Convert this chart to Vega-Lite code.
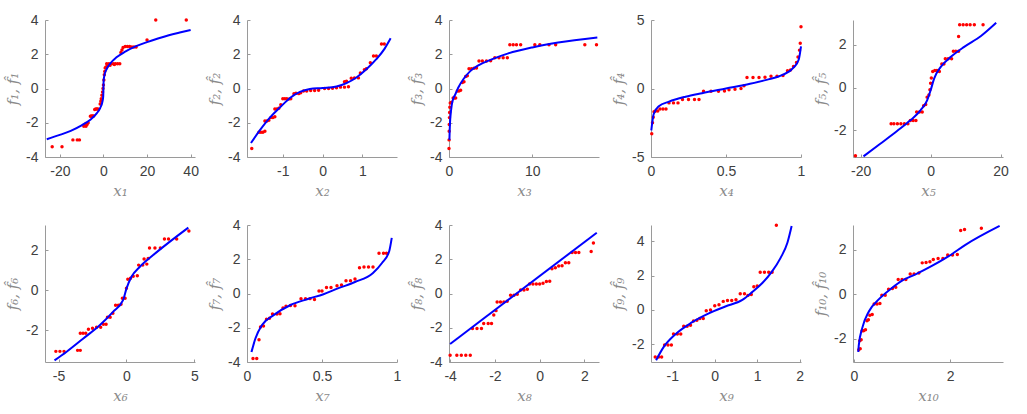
{
"$schema": "https://vega.github.io/schema/vega-lite/v6.json",
"background": "white",
"padding": {"left": 5, "top": 13, "right": 5, "bottom": 5},
"config": {
 "view": {"stroke": null},
 "axis": {"grid": false, "domainColor": "#9a9a9a", "tickColor": "#9a9a9a", "tickSize": -3, "labelPadding": 10, "labelColor": "#404040", "labelFont": "Liberation Sans", "labelFontSize": 14, "labelExpr": "'' + datum.value", "titleFont": "DejaVu Serif", "titleFontStyle": "italic", "titleFontWeight": "normal", "titleColor": "#8a8a8a", "titleFontSize": 15, "titlePadding": 5, "labelFlush": false, "labelOverlap": false}
},
"datasets": {
 "d1": [
  {"x":-26,"y":-2.96,"k":"c"},{"x":-20,"y":-2.71,"k":"c"},{"x":-15,"y":-2.47,"k":"c"},{"x":-10,"y":-2.15,"k":"c"},{"x":-6,"y":-1.82,"k":"c"},{"x":-3,"y":-1.44,"k":"c"},{"x":-1.5,"y":-1.14,"k":"c"},{"x":-0.5,"y":-0.79,"k":"c"},{"x":-0.1,"y":-0.46,"k":"c"},{"x":0,"y":0,"k":"c"},{"x":0.1,"y":0.46,"k":"c"},{"x":0.5,"y":0.79,"k":"c"},{"x":1.5,"y":1.14,"k":"c"},{"x":3,"y":1.44,"k":"c"},{"x":6,"y":1.82,"k":"c"},{"x":10,"y":2.15,"k":"c"},{"x":15,"y":2.47,"k":"c"},{"x":20,"y":2.71,"k":"c"},{"x":25,"y":2.92,"k":"c"},{"x":30,"y":3.11,"k":"c"},{"x":35,"y":3.27,"k":"c"},{"x":40,"y":3.42,"k":"c"},
  {"x":-23.5,"y":-3.4,"k":"p"},{"x":-19,"y":-3.4,"k":"p"},{"x":-14,"y":-3.0,"k":"p"},{"x":-12,"y":-3.0,"k":"p"},{"x":-11,"y":-3.0,"k":"p"},{"x":-9,"y":-2.2,"k":"p"},{"x":-8.5,"y":-2.15,"k":"p"},{"x":-8,"y":-2.2,"k":"p"},{"x":-7.5,"y":-2.1,"k":"p"},{"x":-7,"y":-2.0,"k":"p"},{"x":-8,"y":-2.05,"k":"p"},{"x":-6,"y":-1.62,"k":"p"},{"x":-5.5,"y":-1.6,"k":"p"},{"x":-5,"y":-1.6,"k":"p"},{"x":-4.5,"y":-1.6,"k":"p"},{"x":-4,"y":-1.22,"k":"p"},{"x":-3.5,"y":-1.2,"k":"p"},{"x":-3,"y":-1.2,"k":"p"},{"x":-2.5,"y":-1.2,"k":"p"},{"x":-1.5,"y":-0.9,"k":"p"},{"x":-1.2,"y":-0.75,"k":"p"},{"x":-1,"y":-0.6,"k":"p"},{"x":-0.7,"y":-0.4,"k":"p"},{"x":-0.4,"y":-0.2,"k":"p"},{"x":-0.2,"y":0,"k":"p"},{"x":0,"y":0.2,"k":"p"},{"x":0.2,"y":0.5,"k":"p"},{"x":0.4,"y":0.8,"k":"p"},{"x":0.6,"y":1.0,"k":"p"},{"x":0.8,"y":1.2,"k":"p"},{"x":1.2,"y":1.25,"k":"p"},{"x":1.8,"y":1.3,"k":"p"},{"x":1.5,"y":1.45,"k":"p"},{"x":2.5,"y":1.45,"k":"p"},{"x":3.5,"y":1.45,"k":"p"},{"x":4.5,"y":1.45,"k":"p"},{"x":5.5,"y":1.45,"k":"p"},{"x":6.5,"y":1.45,"k":"p"},{"x":7.5,"y":1.45,"k":"p"},{"x":3,"y":1.35,"k":"p"},{"x":5,"y":1.4,"k":"p"},{"x":8,"y":2.1,"k":"p"},{"x":8.5,"y":2.25,"k":"p"},{"x":9,"y":2.4,"k":"p"},{"x":10,"y":2.45,"k":"p"},{"x":11,"y":2.45,"k":"p"},{"x":12,"y":2.45,"k":"p"},{"x":13,"y":2.42,"k":"p"},{"x":14,"y":2.42,"k":"p"},{"x":15,"y":2.42,"k":"p"},{"x":20,"y":2.83,"k":"p"},{"x":24,"y":4.0,"k":"p"},{"x":38,"y":4.0,"k":"p"}
 ],
 "d2": [
  {"x":-1.8,"y":-3.18,"k":"c"},{"x":-1.57,"y":-2.42,"k":"c"},{"x":-1.32,"y":-1.69,"k":"c"},{"x":-1.07,"y":-1.1,"k":"c"},{"x":-0.82,"y":-0.55,"k":"c"},{"x":-0.57,"y":-0.2,"k":"c"},{"x":-0.32,"y":-0.03,"k":"c"},{"x":0,"y":0.03,"k":"c"},{"x":0.35,"y":0.12,"k":"c"},{"x":0.6,"y":0.31,"k":"c"},{"x":0.85,"y":0.64,"k":"c"},{"x":1.1,"y":1.12,"k":"c"},{"x":1.35,"y":1.71,"k":"c"},{"x":1.56,"y":2.33,"k":"c"},{"x":1.71,"y":2.93,"k":"c"},
  {"x":-1.78,"y":-3.5,"k":"p"},{"x":-1.6,"y":-2.55,"k":"p"},{"x":-1.55,"y":-2.55,"k":"p"},{"x":-1.5,"y":-2.55,"k":"p"},{"x":-1.45,"y":-2.5,"k":"p"},{"x":-1.45,"y":-1.9,"k":"p"},{"x":-1.4,"y":-1.9,"k":"p"},{"x":-1.35,"y":-1.85,"k":"p"},{"x":-1.3,"y":-1.7,"k":"p"},{"x":-1.25,"y":-1.7,"k":"p"},{"x":-1.2,"y":-1.65,"k":"p"},{"x":-1.2,"y":-1.2,"k":"p"},{"x":-1.15,"y":-1.2,"k":"p"},{"x":-1.1,"y":-1.15,"k":"p"},{"x":-1.05,"y":-0.95,"k":"p"},{"x":-1.0,"y":-0.6,"k":"p"},{"x":-0.95,"y":-0.6,"k":"p"},{"x":-0.9,"y":-0.6,"k":"p"},{"x":-0.85,"y":-0.62,"k":"p"},{"x":-0.8,"y":-0.6,"k":"p"},{"x":-0.72,"y":-0.3,"k":"p"},{"x":-0.67,"y":-0.28,"k":"p"},{"x":-0.6,"y":-0.3,"k":"p"},{"x":-0.55,"y":-0.25,"k":"p"},{"x":-0.48,"y":-0.15,"k":"p"},{"x":-0.4,"y":-0.15,"k":"p"},{"x":-0.3,"y":-0.12,"k":"p"},{"x":-0.2,"y":-0.12,"k":"p"},{"x":-0.1,"y":-0.1,"k":"p"},{"x":0.05,"y":0.0,"k":"p"},{"x":0.15,"y":0.0,"k":"p"},{"x":0.25,"y":0.02,"k":"p"},{"x":0.35,"y":0.05,"k":"p"},{"x":0.45,"y":0.08,"k":"p"},{"x":0.55,"y":0.08,"k":"p"},{"x":0.65,"y":0.1,"k":"p"},{"x":0.55,"y":0.4,"k":"p"},{"x":0.6,"y":0.42,"k":"p"},{"x":0.72,"y":0.6,"k":"p"},{"x":0.8,"y":0.62,"k":"p"},{"x":0.9,"y":0.62,"k":"p"},{"x":0.95,"y":0.9,"k":"p"},{"x":1.05,"y":1.1,"k":"p"},{"x":1.1,"y":1.15,"k":"p"},{"x":1.2,"y":1.5,"k":"p"},{"x":1.28,"y":1.9,"k":"p"},{"x":1.35,"y":1.9,"k":"p"},{"x":1.48,"y":2.6,"k":"p"},{"x":1.55,"y":2.6,"k":"p"}
 ],
 "d3": [
  {"x":0.05,"y":-3.0,"k":"c"},{"x":0.08,"y":-2.5,"k":"c"},{"x":0.12,"y":-2.0,"k":"c"},{"x":0.2,"y":-1.5,"k":"c"},{"x":0.32,"y":-1.0,"k":"c"},{"x":0.5,"y":-0.6,"k":"c"},{"x":0.72,"y":-0.38,"k":"c"},{"x":1.12,"y":0.06,"k":"c"},{"x":1.72,"y":0.54,"k":"c"},{"x":2.52,"y":1.0,"k":"c"},{"x":3.52,"y":1.35,"k":"c"},{"x":5.12,"y":1.7,"k":"c"},{"x":7.12,"y":2.05,"k":"c"},{"x":10,"y":2.4,"k":"c"},{"x":13.1,"y":2.68,"k":"c"},{"x":17.8,"y":2.98,"k":"c"},
  {"x":0,"y":-3.5,"k":"p"},{"x":0.01,"y":-3.0,"k":"p"},{"x":0.02,"y":-2.5,"k":"p"},{"x":0.03,"y":-2.1,"k":"p"},{"x":0.05,"y":-1.7,"k":"p"},{"x":0.07,"y":-1.4,"k":"p"},{"x":0.1,"y":-1.1,"k":"p"},{"x":0.15,"y":-0.85,"k":"p"},{"x":0.3,"y":-0.8,"k":"p"},{"x":0.5,"y":-0.55,"k":"p"},{"x":0.65,"y":-0.55,"k":"p"},{"x":0.8,"y":-0.55,"k":"p"},{"x":1.0,"y":-0.15,"k":"p"},{"x":1.2,"y":-0.15,"k":"p"},{"x":1.4,"y":-0.1,"k":"p"},{"x":1.6,"y":0.35,"k":"p"},{"x":1.8,"y":0.4,"k":"p"},{"x":2.0,"y":0.7,"k":"p"},{"x":2.2,"y":0.75,"k":"p"},{"x":2.4,"y":1.15,"k":"p"},{"x":2.7,"y":1.15,"k":"p"},{"x":3.0,"y":1.18,"k":"p"},{"x":3.3,"y":1.2,"k":"p"},{"x":3.6,"y":1.6,"k":"p"},{"x":4.0,"y":1.6,"k":"p"},{"x":4.5,"y":1.6,"k":"p"},{"x":5.0,"y":1.62,"k":"p"},{"x":5.5,"y":1.8,"k":"p"},{"x":6.0,"y":1.8,"k":"p"},{"x":6.5,"y":1.8,"k":"p"},{"x":7.0,"y":1.8,"k":"p"},{"x":7.3,"y":2.55,"k":"p"},{"x":7.7,"y":2.55,"k":"p"},{"x":8.1,"y":2.55,"k":"p"},{"x":8.6,"y":2.55,"k":"p"},{"x":10.3,"y":2.55,"k":"p"},{"x":10.9,"y":2.55,"k":"p"},{"x":12.0,"y":2.55,"k":"p"},{"x":12.8,"y":2.55,"k":"p"},{"x":16.3,"y":2.55,"k":"p"},{"x":17.7,"y":2.55,"k":"p"}
 ],
 "d4": [
  {"x":0.002,"y":-3.06,"k":"c"},{"x":0.018,"y":-1.86,"k":"c"},{"x":0.052,"y":-1.3,"k":"c"},{"x":0.12,"y":-0.96,"k":"c"},{"x":0.23,"y":-0.6,"k":"c"},{"x":0.34,"y":-0.34,"k":"c"},{"x":0.5,"y":0,"k":"c"},{"x":0.66,"y":0.34,"k":"c"},{"x":0.77,"y":0.63,"k":"c"},{"x":0.88,"y":1.01,"k":"c"},{"x":0.95,"y":1.52,"k":"c"},{"x":0.985,"y":2.12,"k":"c"},{"x":1.0,"y":3.08,"k":"c"},
  {"x":0.005,"y":-3.3,"k":"p"},{"x":0.01,"y":-2.5,"k":"p"},{"x":0.015,"y":-2.1,"k":"p"},{"x":0.02,"y":-1.7,"k":"p"},{"x":0.03,"y":-1.65,"k":"p"},{"x":0.045,"y":-1.65,"k":"p"},{"x":0.06,"y":-1.5,"k":"p"},{"x":0.08,"y":-1.5,"k":"p"},{"x":0.1,"y":-1.5,"k":"p"},{"x":0.12,"y":-1.05,"k":"p"},{"x":0.15,"y":-1.05,"k":"p"},{"x":0.18,"y":-1.05,"k":"p"},{"x":0.21,"y":-0.8,"k":"p"},{"x":0.25,"y":-0.8,"k":"p"},{"x":0.29,"y":-0.8,"k":"p"},{"x":0.32,"y":-0.8,"k":"p"},{"x":0.35,"y":-0.2,"k":"p"},{"x":0.4,"y":-0.2,"k":"p"},{"x":0.45,"y":-0.2,"k":"p"},{"x":0.49,"y":-0.18,"k":"p"},{"x":0.52,"y":-0.1,"k":"p"},{"x":0.56,"y":-0.05,"k":"p"},{"x":0.6,"y":0.0,"k":"p"},{"x":0.62,"y":0.2,"k":"p"},{"x":0.64,"y":0.8,"k":"p"},{"x":0.68,"y":0.8,"k":"p"},{"x":0.72,"y":0.8,"k":"p"},{"x":0.76,"y":0.82,"k":"p"},{"x":0.8,"y":0.9,"k":"p"},{"x":0.84,"y":0.9,"k":"p"},{"x":0.88,"y":0.95,"k":"p"},{"x":0.91,"y":1.3,"k":"p"},{"x":0.93,"y":1.35,"k":"p"},{"x":0.95,"y":1.6,"k":"p"},{"x":0.97,"y":1.9,"k":"p"},{"x":0.98,"y":2.3,"k":"p"},{"x":0.99,"y":2.8,"k":"p"},{"x":0.995,"y":3.3,"k":"p"},{"x":1.0,"y":4.5,"k":"p"}
 ],
 "d5": [
  {"x":-19.2,"y":-3.23,"k":"c"},{"x":-14.4,"y":-2.64,"k":"c"},{"x":-9.6,"y":-2.04,"k":"c"},{"x":-5.8,"y":-1.54,"k":"c"},{"x":-2.9,"y":-1.07,"k":"c"},{"x":-1.0,"y":-0.6,"k":"c"},{"x":0,"y":-0.13,"k":"c"},{"x":1.0,"y":0.42,"k":"c"},{"x":2.9,"y":0.97,"k":"c"},{"x":5.8,"y":1.44,"k":"c"},{"x":9.6,"y":1.91,"k":"c"},{"x":14.4,"y":2.42,"k":"c"},{"x":18.75,"y":3.04,"k":"c"},
  {"x":-21.5,"y":-3.2,"k":"p"},{"x":-11.3,"y":-1.7,"k":"p"},{"x":-10.5,"y":-1.7,"k":"p"},{"x":-9.5,"y":-1.7,"k":"p"},{"x":-8.5,"y":-1.7,"k":"p"},{"x":-7.5,"y":-1.7,"k":"p"},{"x":-6.5,"y":-1.7,"k":"p"},{"x":-5.8,"y":-1.55,"k":"p"},{"x":-5,"y":-1.55,"k":"p"},{"x":-4.2,"y":-1.55,"k":"p"},{"x":-4,"y":-1.15,"k":"p"},{"x":-3.2,"y":-1.15,"k":"p"},{"x":-2.4,"y":-1.15,"k":"p"},{"x":-2,"y":-0.85,"k":"p"},{"x":-1.4,"y":-0.8,"k":"p"},{"x":-1,"y":-0.45,"k":"p"},{"x":-0.5,"y":-0.35,"k":"p"},{"x":-0.2,"y":-0.1,"k":"p"},{"x":0,"y":0.2,"k":"p"},{"x":0.2,"y":0.45,"k":"p"},{"x":0.6,"y":0.75,"k":"p"},{"x":1.2,"y":0.8,"k":"p"},{"x":1.8,"y":0.8,"k":"p"},{"x":2.5,"y":0.75,"k":"p"},{"x":3.2,"y":1.1,"k":"p"},{"x":3.8,"y":1.1,"k":"p"},{"x":4.2,"y":1.35,"k":"p"},{"x":5.0,"y":1.35,"k":"p"},{"x":6.0,"y":1.35,"k":"p"},{"x":6.5,"y":1.7,"k":"p"},{"x":7.2,"y":1.7,"k":"p"},{"x":8.0,"y":1.7,"k":"p"},{"x":8.0,"y":2.4,"k":"p"},{"x":8.3,"y":2.95,"k":"p"},{"x":9.3,"y":2.95,"k":"p"},{"x":10.3,"y":2.95,"k":"p"},{"x":11.3,"y":2.95,"k":"p"},{"x":12.5,"y":2.95,"k":"p"},{"x":15,"y":2.95,"k":"p"}
 ],
 "d6": [
  {"x":-5.3,"y":-3.5,"k":"c"},{"x":-4.43,"y":-3.08,"k":"c"},{"x":-3.2,"y":-2.42,"k":"c"},{"x":-1.97,"y":-1.75,"k":"c"},{"x":-0.99,"y":-1.08,"k":"c"},{"x":-0.25,"y":-0.5,"k":"c"},{"x":0,"y":0.08,"k":"c"},{"x":0.37,"y":0.67,"k":"c"},{"x":0.99,"y":1.17,"k":"c"},{"x":1.97,"y":1.75,"k":"c"},{"x":3.2,"y":2.42,"k":"c"},{"x":4.56,"y":3.12,"k":"c"},
  {"x":-5.2,"y":-3.05,"k":"p"},{"x":-4.9,"y":-3.05,"k":"p"},{"x":-4.6,"y":-3.05,"k":"p"},{"x":-3.6,"y":-3.0,"k":"p"},{"x":-3.4,"y":-3.0,"k":"p"},{"x":-3.4,"y":-2.15,"k":"p"},{"x":-3.2,"y":-2.15,"k":"p"},{"x":-3.0,"y":-2.15,"k":"p"},{"x":-2.8,"y":-1.95,"k":"p"},{"x":-2.5,"y":-1.9,"k":"p"},{"x":-2.2,"y":-1.85,"k":"p"},{"x":-1.9,"y":-1.85,"k":"p"},{"x":-1.7,"y":-1.7,"k":"p"},{"x":-1.5,"y":-1.7,"k":"p"},{"x":-1.4,"y":-1.35,"k":"p"},{"x":-1.2,"y":-1.35,"k":"p"},{"x":-1.0,"y":-1.15,"k":"p"},{"x":-0.8,"y":-0.75,"k":"p"},{"x":-0.6,"y":-0.75,"k":"p"},{"x":-0.4,"y":-0.7,"k":"p"},{"x":-0.3,"y":-0.4,"k":"p"},{"x":-0.1,"y":-0.4,"k":"p"},{"x":0.0,"y":0.1,"k":"p"},{"x":0.1,"y":0.55,"k":"p"},{"x":0.3,"y":0.6,"k":"p"},{"x":0.5,"y":0.7,"k":"p"},{"x":0.8,"y":0.72,"k":"p"},{"x":0.9,"y":1.25,"k":"p"},{"x":1.2,"y":1.25,"k":"p"},{"x":1.5,"y":1.3,"k":"p"},{"x":1.3,"y":1.55,"k":"p"},{"x":1.6,"y":1.58,"k":"p"},{"x":1.7,"y":2.1,"k":"p"},{"x":2.1,"y":2.1,"k":"p"},{"x":2.5,"y":2.1,"k":"p"},{"x":2.8,"y":2.55,"k":"p"},{"x":3.1,"y":2.55,"k":"p"},{"x":3.7,"y":2.55,"k":"p"},{"x":4.6,"y":2.95,"k":"p"}
 ],
 "d7": [
  {"x":0.03,"y":-3.41,"k":"c"},{"x":0.056,"y":-2.63,"k":"c"},{"x":0.1,"y":-1.84,"k":"c"},{"x":0.18,"y":-1.25,"k":"c"},{"x":0.29,"y":-0.67,"k":"c"},{"x":0.41,"y":-0.31,"k":"c"},{"x":0.51,"y":-0.04,"k":"c"},{"x":0.61,"y":0.31,"k":"c"},{"x":0.72,"y":0.67,"k":"c"},{"x":0.84,"y":1.2,"k":"c"},{"x":0.9,"y":1.78,"k":"c"},{"x":0.948,"y":2.47,"k":"c"},{"x":0.965,"y":3.25,"k":"c"},
  {"x":0.04,"y":-3.8,"k":"p"},{"x":0.065,"y":-3.8,"k":"p"},{"x":0.08,"y":-2.7,"k":"p"},{"x":0.09,"y":-1.95,"k":"p"},{"x":0.11,"y":-1.9,"k":"p"},{"x":0.13,"y":-1.5,"k":"p"},{"x":0.15,"y":-1.45,"k":"p"},{"x":0.17,"y":-1.2,"k":"p"},{"x":0.2,"y":-1.2,"k":"p"},{"x":0.22,"y":-1.18,"k":"p"},{"x":0.24,"y":-0.85,"k":"p"},{"x":0.26,"y":-0.75,"k":"p"},{"x":0.29,"y":-0.7,"k":"p"},{"x":0.32,"y":-0.72,"k":"p"},{"x":0.36,"y":-0.3,"k":"p"},{"x":0.39,"y":-0.3,"k":"p"},{"x":0.42,"y":-0.3,"k":"p"},{"x":0.45,"y":-0.35,"k":"p"},{"x":0.48,"y":0.15,"k":"p"},{"x":0.5,"y":0.15,"k":"p"},{"x":0.53,"y":0.35,"k":"p"},{"x":0.56,"y":0.35,"k":"p"},{"x":0.6,"y":0.45,"k":"p"},{"x":0.63,"y":0.5,"k":"p"},{"x":0.66,"y":0.75,"k":"p"},{"x":0.69,"y":0.75,"k":"p"},{"x":0.72,"y":0.85,"k":"p"},{"x":0.75,"y":1.5,"k":"p"},{"x":0.78,"y":1.55,"k":"p"},{"x":0.81,"y":1.55,"k":"p"},{"x":0.84,"y":1.55,"k":"p"},{"x":0.88,"y":2.35,"k":"p"},{"x":0.91,"y":2.35,"k":"p"},{"x":0.93,"y":2.35,"k":"p"}
 ],
 "d8": [
  {"x":-4,"y":-2.95,"k":"c"},{"x":2.55,"y":3.55,"k":"c"},
  {"x":-4,"y":-3.6,"k":"p"},{"x":-3.7,"y":-3.6,"k":"p"},{"x":-3.5,"y":-3.6,"k":"p"},{"x":-3.3,"y":-3.6,"k":"p"},{"x":-3.1,"y":-3.6,"k":"p"},{"x":-3.0,"y":-2.05,"k":"p"},{"x":-2.8,"y":-2.05,"k":"p"},{"x":-2.6,"y":-2.05,"k":"p"},{"x":-2.5,"y":-1.75,"k":"p"},{"x":-2.3,"y":-1.75,"k":"p"},{"x":-2.15,"y":-1.75,"k":"p"},{"x":-2.05,"y":-1.25,"k":"p"},{"x":-1.95,"y":-1.0,"k":"p"},{"x":-1.9,"y":-0.5,"k":"p"},{"x":-1.75,"y":-0.5,"k":"p"},{"x":-1.6,"y":-0.5,"k":"p"},{"x":-1.45,"y":-0.45,"k":"p"},{"x":-1.3,"y":-0.1,"k":"p"},{"x":-1.15,"y":-0.1,"k":"p"},{"x":-1.0,"y":-0.05,"k":"p"},{"x":-0.85,"y":0.2,"k":"p"},{"x":-0.7,"y":0.2,"k":"p"},{"x":-0.55,"y":0.25,"k":"p"},{"x":-0.45,"y":0.55,"k":"p"},{"x":-0.3,"y":0.55,"k":"p"},{"x":-0.15,"y":0.55,"k":"p"},{"x":0.0,"y":0.55,"k":"p"},{"x":0.15,"y":0.6,"k":"p"},{"x":0.3,"y":0.7,"k":"p"},{"x":0.45,"y":0.72,"k":"p"},{"x":0.55,"y":1.45,"k":"p"},{"x":0.7,"y":1.5,"k":"p"},{"x":0.85,"y":1.6,"k":"p"},{"x":1.0,"y":1.62,"k":"p"},{"x":1.15,"y":1.8,"k":"p"},{"x":1.3,"y":1.8,"k":"p"},{"x":1.45,"y":2.4,"k":"p"},{"x":1.6,"y":2.4,"k":"p"},{"x":1.75,"y":2.4,"k":"p"},{"x":2.3,"y":2.45,"k":"p"},{"x":2.4,"y":2.95,"k":"p"}
 ],
 "d9": [
  {"x":-1.38,"y":-2.94,"k":"c"},{"x":-1.2,"y":-2.16,"k":"c"},{"x":-0.93,"y":-1.43,"k":"c"},{"x":-0.54,"y":-0.73,"k":"c"},{"x":-0.14,"y":-0.2,"k":"c"},{"x":0.25,"y":0.2,"k":"c"},{"x":0.65,"y":0.59,"k":"c"},{"x":0.88,"y":1.04,"k":"c"},{"x":1.12,"y":1.57,"k":"c"},{"x":1.35,"y":2.25,"k":"c"},{"x":1.55,"y":3.04,"k":"c"},{"x":1.71,"y":3.92,"k":"c"},{"x":1.81,"y":4.9,"k":"c"},
  {"x":-1.4,"y":-2.75,"k":"p"},{"x":-1.32,"y":-2.75,"k":"p"},{"x":-1.25,"y":-2.75,"k":"p"},{"x":-1.18,"y":-2.05,"k":"p"},{"x":-1.1,"y":-2.05,"k":"p"},{"x":-1.02,"y":-2.05,"k":"p"},{"x":-0.97,"y":-1.4,"k":"p"},{"x":-0.88,"y":-1.4,"k":"p"},{"x":-0.8,"y":-1.4,"k":"p"},{"x":-0.73,"y":-0.95,"k":"p"},{"x":-0.65,"y":-0.95,"k":"p"},{"x":-0.57,"y":-0.9,"k":"p"},{"x":-0.5,"y":-0.65,"k":"p"},{"x":-0.42,"y":-0.6,"k":"p"},{"x":-0.35,"y":-0.5,"k":"p"},{"x":-0.27,"y":-0.5,"k":"p"},{"x":-0.2,"y":-0.05,"k":"p"},{"x":-0.1,"y":0.0,"k":"p"},{"x":0.0,"y":0.25,"k":"p"},{"x":0.1,"y":0.3,"k":"p"},{"x":0.2,"y":0.5,"k":"p"},{"x":0.3,"y":0.55,"k":"p"},{"x":0.4,"y":0.55,"k":"p"},{"x":0.5,"y":0.6,"k":"p"},{"x":0.6,"y":0.95,"k":"p"},{"x":0.7,"y":0.95,"k":"p"},{"x":0.78,"y":0.85,"k":"p"},{"x":0.86,"y":0.9,"k":"p"},{"x":0.92,"y":1.35,"k":"p"},{"x":1.0,"y":1.4,"k":"p"},{"x":1.07,"y":2.2,"k":"p"},{"x":1.17,"y":2.2,"k":"p"},{"x":1.27,"y":2.2,"k":"p"},{"x":1.35,"y":2.2,"k":"p"},{"x":1.45,"y":4.95,"k":"p"}
 ],
 "d10": [
  {"x":0.09,"y":-2.6,"k":"c"},{"x":0.1,"y":-2.3,"k":"c"},{"x":0.17,"y":-1.54,"k":"c"},{"x":0.31,"y":-0.78,"k":"c"},{"x":0.52,"y":-0.23,"k":"c"},{"x":0.79,"y":0.27,"k":"c"},{"x":1.0,"y":0.6,"k":"c"},{"x":1.28,"y":0.88,"k":"c"},{"x":1.62,"y":1.26,"k":"c"},{"x":1.97,"y":1.7,"k":"c"},{"x":2.31,"y":2.2,"k":"c"},{"x":3.03,"y":3.06,"k":"c"},
  {"x":0.1,"y":-2.5,"k":"p"},{"x":0.13,"y":-2.45,"k":"p"},{"x":0.12,"y":-2.1,"k":"p"},{"x":0.15,"y":-2.05,"k":"p"},{"x":0.17,"y":-1.65,"k":"p"},{"x":0.2,"y":-1.65,"k":"p"},{"x":0.24,"y":-1.6,"k":"p"},{"x":0.27,"y":-1.2,"k":"p"},{"x":0.3,"y":-1.15,"k":"p"},{"x":0.33,"y":-0.95,"k":"p"},{"x":0.38,"y":-0.92,"k":"p"},{"x":0.42,"y":-0.45,"k":"p"},{"x":0.48,"y":-0.45,"k":"p"},{"x":0.54,"y":-0.42,"k":"p"},{"x":0.58,"y":-0.05,"k":"p"},{"x":0.65,"y":-0.05,"k":"p"},{"x":0.72,"y":0.22,"k":"p"},{"x":0.8,"y":0.25,"k":"p"},{"x":0.87,"y":0.3,"k":"p"},{"x":0.92,"y":0.65,"k":"p"},{"x":1.0,"y":0.65,"k":"p"},{"x":1.08,"y":0.65,"k":"p"},{"x":1.17,"y":0.9,"k":"p"},{"x":1.25,"y":0.9,"k":"p"},{"x":1.35,"y":0.95,"k":"p"},{"x":1.42,"y":1.4,"k":"p"},{"x":1.5,"y":1.42,"k":"p"},{"x":1.58,"y":1.45,"k":"p"},{"x":1.65,"y":1.55,"k":"p"},{"x":1.75,"y":1.6,"k":"p"},{"x":1.85,"y":1.6,"k":"p"},{"x":1.95,"y":1.75,"k":"p"},{"x":2.05,"y":1.75,"k":"p"},{"x":2.15,"y":1.78,"k":"p"},{"x":2.22,"y":2.85,"k":"p"},{"x":2.3,"y":2.9,"k":"p"},{"x":2.65,"y":2.95,"k":"p"}
 ]
},
"columns": 5,
"spacing": {"row": 68, "column": 52},
"bounds": "flush",
"concat": [
 {"width":150,"height":137,"data":{"name":"d1"},
  "encoding":{"x":{"field":"x","type":"quantitative","scale":{"domain":[-26.8,42],"nice":false,"zero":false},"axis":{"values":[-20,0,20,40],"title":"x\u2081"}},
              "y":{"field":"y","type":"quantitative","scale":{"domain":[-4,4],"nice":false,"zero":false},"axis":{"values":[-4,-2,0,2,4],"title":"f\u2081, f\u0302\u2081"}}},
  "layer":[{"transform":[{"filter":"datum.k=='p'"}],"mark":{"type":"point","filled":true,"color":"#ff0000","size":12,"opacity":1}},
           {"transform":[{"filter":"datum.k=='c'"}],"mark":{"type":"line","color":"#0000ff","strokeWidth":2,"interpolate":"monotone"}}]},
 {"width":150,"height":137,"data":{"name":"d2"},
  "encoding":{"x":{"field":"x","type":"quantitative","scale":{"domain":[-1.9,1.87],"nice":false,"zero":false},"axis":{"values":[-1,0,1],"title":"x\u2082"}},
              "y":{"field":"y","type":"quantitative","scale":{"domain":[-4,4],"nice":false,"zero":false},"axis":{"values":[-4,-2,0,2,4],"title":"f\u2082, f\u0302\u2082"}}},
  "layer":[{"transform":[{"filter":"datum.k=='p'"}],"mark":{"type":"point","filled":true,"color":"#ff0000","size":12,"opacity":1}},
           {"transform":[{"filter":"datum.k=='c'"}],"mark":{"type":"line","color":"#0000ff","strokeWidth":2,"interpolate":"monotone"}}]},
 {"width":150,"height":137,"data":{"name":"d3"},
  "encoding":{"x":{"field":"x","type":"quantitative","scale":{"domain":[0,18],"nice":false,"zero":false},"axis":{"values":[0,10],"title":"x\u2083"}},
              "y":{"field":"y","type":"quantitative","scale":{"domain":[-4,4],"nice":false,"zero":false},"axis":{"values":[-4,-2,0,2,4],"title":"f\u2083, f\u0302\u2083"}}},
  "layer":[{"transform":[{"filter":"datum.k=='p'"}],"mark":{"type":"point","filled":true,"color":"#ff0000","size":12,"opacity":1}},
           {"transform":[{"filter":"datum.k=='c'"}],"mark":{"type":"line","color":"#0000ff","strokeWidth":2,"interpolate":"monotone"}}]},
 {"width":150,"height":137,"data":{"name":"d4"},
  "encoding":{"x":{"field":"x","type":"quantitative","scale":{"domain":[0,1],"nice":false,"zero":false},"axis":{"values":[0,0.5,1],"title":"x\u2084"}},
              "y":{"field":"y","type":"quantitative","scale":{"domain":[-5,5],"nice":false,"zero":false},"axis":{"values":[-5,0,5],"title":"f\u2084, f\u0302\u2084"}}},
  "layer":[{"transform":[{"filter":"datum.k=='p'"}],"mark":{"type":"point","filled":true,"color":"#ff0000","size":12,"opacity":1}},
           {"transform":[{"filter":"datum.k=='c'"}],"mark":{"type":"line","color":"#0000ff","strokeWidth":2,"interpolate":"monotone"}}]},
 {"width":150,"height":137,"data":{"name":"d5"},
  "encoding":{"x":{"field":"x","type":"quantitative","scale":{"domain":[-22.2,20.7],"nice":false,"zero":false},"axis":{"values":[-20,0,20],"title":"x\u2085"}},
              "y":{"field":"y","type":"quantitative","scale":{"domain":[-3.26,3.17],"nice":false,"zero":false},"axis":{"values":[-2,0,2],"title":"f\u2085, f\u0302\u2085"}}},
  "layer":[{"transform":[{"filter":"datum.k=='p'"}],"mark":{"type":"point","filled":true,"color":"#ff0000","size":12,"opacity":1}},
           {"transform":[{"filter":"datum.k=='c'"}],"mark":{"type":"line","color":"#0000ff","strokeWidth":2,"interpolate":"monotone"}}]},
 {"width":150,"height":137,"data":{"name":"d6"},
  "encoding":{"x":{"field":"x","type":"quantitative","scale":{"domain":[-6,5.05],"nice":false,"zero":false},"axis":{"values":[-5,0,5],"title":"x\u2086"}},
              "y":{"field":"y","type":"quantitative","scale":{"domain":[-3.58,3.25],"nice":false,"zero":false},"axis":{"values":[-2,0,2],"title":"f\u2086, f\u0302\u2086"}}},
  "layer":[{"transform":[{"filter":"datum.k=='p'"}],"mark":{"type":"point","filled":true,"color":"#ff0000","size":12,"opacity":1}},
           {"transform":[{"filter":"datum.k=='c'"}],"mark":{"type":"line","color":"#0000ff","strokeWidth":2,"interpolate":"monotone"}}]},
 {"width":150,"height":137,"data":{"name":"d7"},
  "encoding":{"x":{"field":"x","type":"quantitative","scale":{"domain":[0,1],"nice":false,"zero":false},"axis":{"values":[0,0.5,1],"title":"x\u2087"}},
              "y":{"field":"y","type":"quantitative","scale":{"domain":[-4,4],"nice":false,"zero":false},"axis":{"values":[-4,-2,0,2,4],"title":"f\u2087, f\u0302\u2087"}}},
  "layer":[{"transform":[{"filter":"datum.k=='p'"}],"mark":{"type":"point","filled":true,"color":"#ff0000","size":12,"opacity":1}},
           {"transform":[{"filter":"datum.k=='c'"}],"mark":{"type":"line","color":"#0000ff","strokeWidth":2,"interpolate":"monotone"}}]},
 {"width":150,"height":137,"data":{"name":"d8"},
  "encoding":{"x":{"field":"x","type":"quantitative","scale":{"domain":[-4.05,2.65],"nice":false,"zero":false},"axis":{"values":[-4,-2,0,2],"title":"x\u2088"}},
              "y":{"field":"y","type":"quantitative","scale":{"domain":[-4,4],"nice":false,"zero":false},"axis":{"values":[-4,-2,0,2,4],"title":"f\u2088, f\u0302\u2088"}}},
  "layer":[{"transform":[{"filter":"datum.k=='p'"}],"mark":{"type":"point","filled":true,"color":"#ff0000","size":12,"opacity":1}},
           {"transform":[{"filter":"datum.k=='c'"}],"mark":{"type":"line","color":"#0000ff","strokeWidth":2,"interpolate":"monotone"}}]},
 {"width":150,"height":137,"data":{"name":"d9"},
  "encoding":{"x":{"field":"x","type":"quantitative","scale":{"domain":[-1.5,2.03],"nice":false,"zero":false},"axis":{"values":[-1,0,1,2],"title":"x\u2089"}},
              "y":{"field":"y","type":"quantitative","scale":{"domain":[-3.04,4.96],"nice":false,"zero":false},"axis":{"values":[-2,0,2,4],"title":"f\u2089, f\u0302\u2089"}}},
  "layer":[{"transform":[{"filter":"datum.k=='p'"}],"mark":{"type":"point","filled":true,"color":"#ff0000","size":12,"opacity":1}},
           {"transform":[{"filter":"datum.k=='c'"}],"mark":{"type":"line","color":"#0000ff","strokeWidth":2,"interpolate":"monotone"}}]},
 {"width":150,"height":137,"data":{"name":"d10"},
  "encoding":{"x":{"field":"x","type":"quantitative","scale":{"domain":[-0.02,3.1],"nice":false,"zero":false},"axis":{"values":[0,2],"title":"x\u2081\u2080"}},
              "y":{"field":"y","type":"quantitative","scale":{"domain":[-3.05,3.1],"nice":false,"zero":false},"axis":{"values":[-2,0,2],"title":"f\u2081\u2080, f\u0302\u2081\u2080"}}},
  "layer":[{"transform":[{"filter":"datum.k=='p'"}],"mark":{"type":"point","filled":true,"color":"#ff0000","size":12,"opacity":1}},
           {"transform":[{"filter":"datum.k=='c'"}],"mark":{"type":"line","color":"#0000ff","strokeWidth":2,"interpolate":"monotone"}}]}
]
}
